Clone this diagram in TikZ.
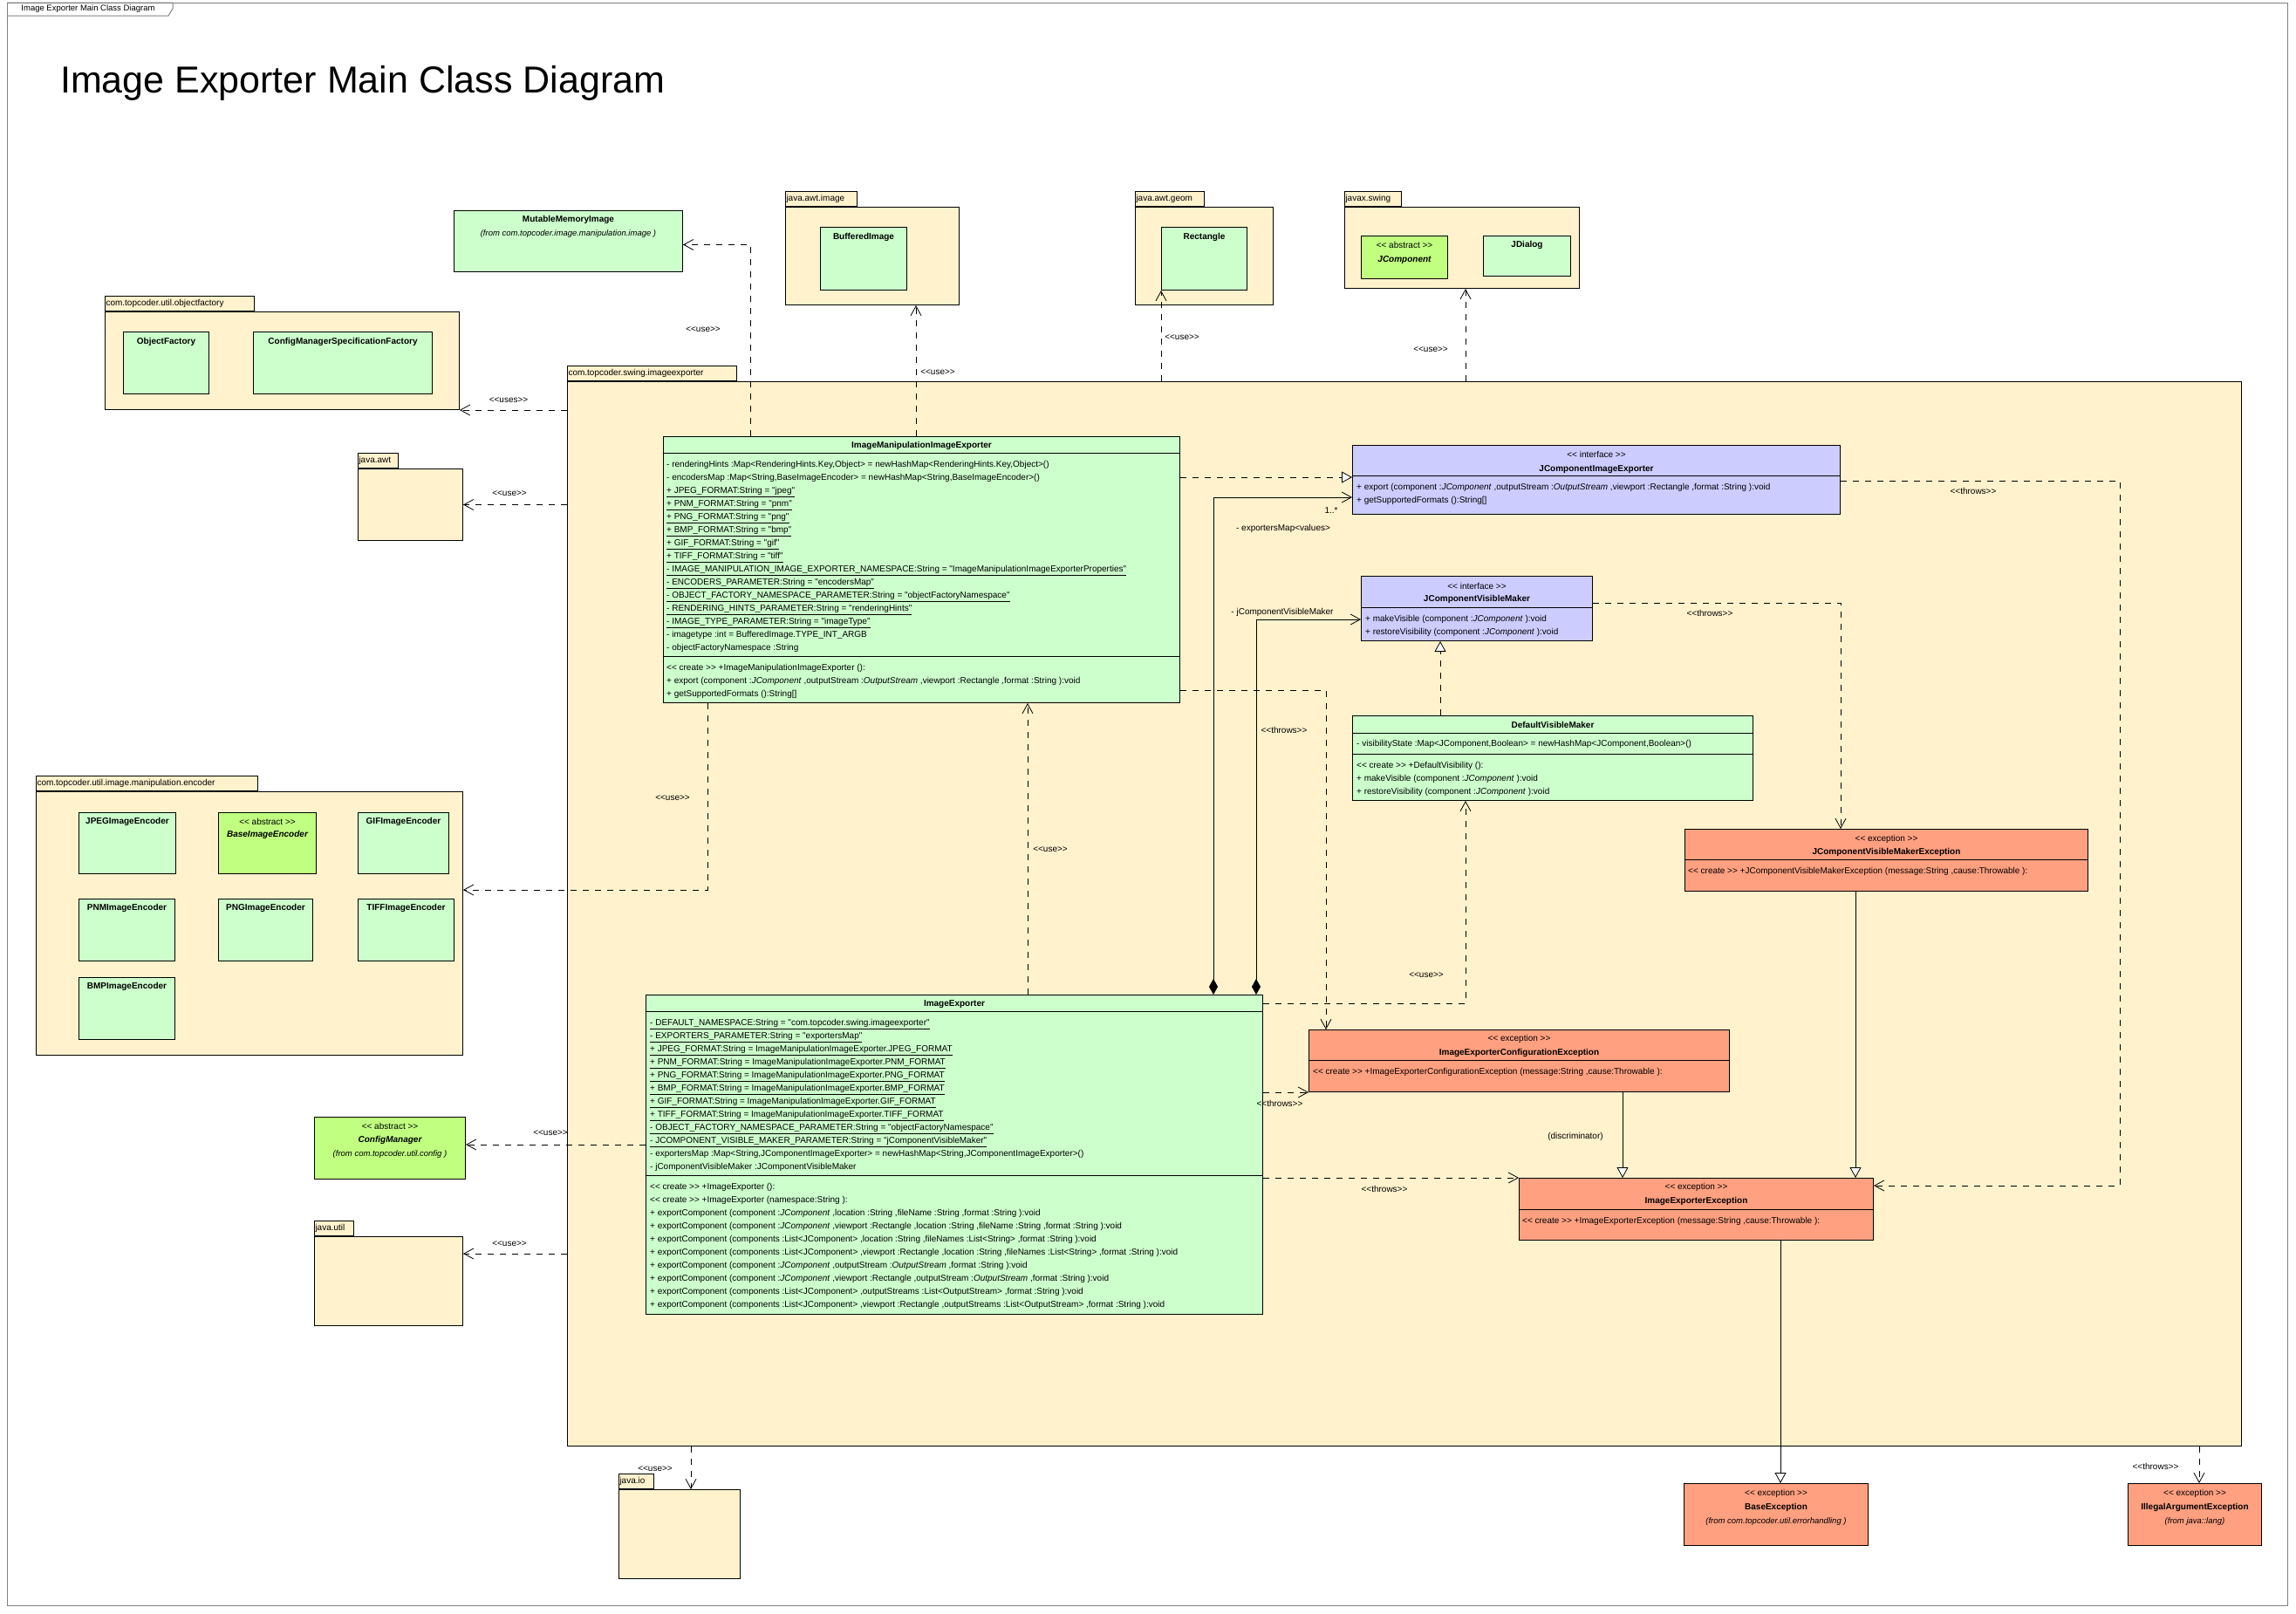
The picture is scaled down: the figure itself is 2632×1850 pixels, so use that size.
\documentclass[tikz,border=0pt]{standalone}
\usepackage{fontspec}
\setmainfont{Liberation Sans}[Ligatures=TeXOff]
\usetikzlibrary{arrows.meta}
\definecolor{pkgfill}{RGB}{255,242,204}
\definecolor{clsfill}{RGB}{204,255,204}
\definecolor{absfill}{RGB}{192,255,128}
\definecolor{ifcfill}{RGB}{204,204,255}
\definecolor{excfill}{RGB}{255,160,128}
\definecolor{framegray}{RGB}{128,128,128}
\tikzset{
  frame/.style={draw=framegray, line width=1pt},
  pkg/.style={draw, line width=1pt, fill=pkgfill, inner sep=0pt, anchor=north west},
  pkgtab/.style={draw, line width=1pt, fill=pkgfill, inner xsep=1pt, inner ysep=0pt, minimum height=17pt, anchor=south west, align=left, font=\fontsize{10}{12}\selectfont},
  cls/.style={draw, line width=1pt, fill=clsfill, inner sep=0pt, anchor=north west},
  abscls/.style={cls, fill=absfill},
  ifc/.style={cls, fill=ifcfill},
  exc/.style={cls, fill=excfill},
  cname/.style={inner sep=0pt, font=\bfseries\fontsize{10}{12}\selectfont},
  aname/.style={inner sep=0pt, font=\bfseries\itshape\fontsize{10}{12}\selectfont},
  stereo/.style={inner sep=0pt, font=\fontsize{10}{12}\selectfont},
  fromtext/.style={inner sep=0pt, font=\itshape\fontsize{9.5}{12}\selectfont},
  members/.style={inner sep=0pt, anchor=north west, align=left, font=\fontsize{10}{15}\selectfont},
  lbl/.style={inner sep=0pt, font=\fontsize{10}{12}\selectfont},
  divider/.style={line width=1pt},
  dep/.style={line width=0.8pt, dash pattern=on 7pt off 7pt, -{Straight Barb[length=11pt,width=12pt]}},
  real/.style={line width=0.8pt, dash pattern=on 7pt off 7pt, -{Triangle[open,fill=white,length=12pt,width=13pt]}},
  gen/.style={line width=0.8pt, -{Triangle[open,fill=white,length=12pt,width=13pt]}},
  comp/.style={line width=0.8pt, {Diamond[length=18pt,width=10pt]}-{Straight Barb[length=11pt,width=12pt]}}
}
\begin{document}
\begin{tikzpicture}[x=1pt,y=-1pt]
  \path[use as bounding box, fill=white] (0,0) rectangle (2632,1850);
  \draw[frame] (8,3) rectangle (2622,1840);
  \draw[frame] (8,3) -- (198,3) -- (198,10) -- (193,18) -- (8,18);
  \node[inner sep=0pt, font=\fontsize{9.5}{11}\selectfont] (frametab) at (101,10) {Image Exporter Main Class Diagram};
  \node[anchor=west, inner sep=0pt, font=\fontsize{43}{50}\selectfont] (diagtitle) at (69,95) {Image Exporter Main Class Diagram};

  \node[cls, minimum width=262, minimum height=70] (mmi) at (520,241) {};
  \node[cname] (mmi-name) at ([yshift=-11pt]mmi.north) {MutableMemoryImage};
  \node[fromtext] (mmi-from) at ([yshift=-27pt]mmi.north) {(from com.topcoder.image.manipulation.image )};

  \node[pkg, minimum width=406, minimum height=112] (objf) at (120,357) {};
  \node[pkgtab, text width=169] (objf-tab) at (objf.north west) {com.topcoder.util.objectfactory};
  \node[cls, minimum width=98, minimum height=71] (objfactory) at (141,380) {};
  \node[cname] (objfactory-name) at ([yshift=-12pt]objfactory.north) {ObjectFactory};
  \node[cls, minimum width=205, minimum height=71] (cmsf) at (290,380) {};
  \node[cname] (cmsf-name) at ([yshift=-12pt]cmsf.north) {ConfigManagerSpecificationFactory};

  \node[pkg, minimum width=120, minimum height=82] (awt) at (410,537) {};
  \node[pkgtab, text width=44] (awt-tab) at (awt.north west) {java.awt};

  \node[pkg, minimum width=199, minimum height=112] (awtimage) at (900,237) {};
  \node[pkgtab, text width=80] (awtimage-tab) at (awtimage.north west) {java.awt.image};
  \node[cls, minimum width=99, minimum height=72] (bufimg) at (940,260) {};
  \node[cname] (bufimg-name) at ([yshift=-12pt]bufimg.north) {BufferedImage};

  \node[pkg, minimum width=158, minimum height=112] (awtgeom) at (1301,237) {};
  \node[pkgtab, text width=77] (awtgeom-tab) at (awtgeom.north west) {java.awt.geom};
  \node[cls, minimum width=98, minimum height=72] (rect) at (1331,260) {};
  \node[cname] (rect-name) at ([yshift=-12pt]rect.north) {Rectangle};

  \node[pkg, minimum width=269, minimum height=93] (swing) at (1541,237) {};
  \node[pkgtab, text width=63] (swing-tab) at (swing.north west) {javax.swing};
  \node[abscls, minimum width=99, minimum height=49] (jcomp) at (1560,270) {};
  \node[stereo] (jcomp-st) at ([yshift=-11pt]jcomp.north) {<< abstract >>};
  \node[aname] (jcomp-name) at ([yshift=-28pt]jcomp.north) {JComponent};
  \node[cls, minimum width=100, minimum height=46] (jdialog) at (1700,270) {};
  \node[cname] (jdialog-name) at ([yshift=-11pt]jdialog.north) {JDialog};

  \node[pkg, minimum width=489, minimum height=302] (enc) at (41,907) {};
  \node[pkgtab, text width=252] (enc-tab) at (enc.north west) {com.topcoder.util.image.manipulation.encoder};
  \node[cls, minimum width=111, minimum height=70] (jpegenc) at (90,931) {};
  \node[cname] (jpegenc-name) at ([yshift=-11pt]jpegenc.north) {JPEGImageEncoder};
  \node[abscls, minimum width=112, minimum height=70] (baseenc) at (250,931) {};
  \node[stereo] (baseenc-st) at ([yshift=-11pt]baseenc.north) {<< abstract >>};
  \node[aname] (baseenc-name) at ([yshift=-26pt]baseenc.north) {BaseImageEncoder};
  \node[cls, minimum width=104, minimum height=70] (gifenc) at (410,931) {};
  \node[cname] (gifenc-name) at ([yshift=-11pt]gifenc.north) {GIFImageEncoder};
  \node[cls, minimum width=110, minimum height=71] (pnmenc) at (90,1030) {};
  \node[cname] (pnmenc-name) at ([yshift=-11pt]pnmenc.north) {PNMImageEncoder};
  \node[cls, minimum width=108, minimum height=71] (pngenc) at (250,1030) {};
  \node[cname] (pngenc-name) at ([yshift=-11pt]pngenc.north) {PNGImageEncoder};
  \node[cls, minimum width=110, minimum height=71] (tiffenc) at (410,1030) {};
  \node[cname] (tiffenc-name) at ([yshift=-11pt]tiffenc.north) {TIFFImageEncoder};
  \node[cls, minimum width=110, minimum height=71] (bmpenc) at (90,1120) {};
  \node[cname] (bmpenc-name) at ([yshift=-11pt]bmpenc.north) {BMPImageEncoder};

  \node[abscls, minimum width=173, minimum height=71] (cm) at (360,1280) {};
  \node[stereo] (cm-st) at ([yshift=-11pt]cm.north) {<< abstract >>};
  \node[aname] (cm-name) at ([yshift=-27pt]cm.north) {ConfigManager};
  \node[fromtext] (cm-from) at ([yshift=-43pt]cm.north) {(from com.topcoder.util.config )};

  \node[pkg, minimum width=170, minimum height=102] (util) at (360,1417) {};
  \node[pkgtab, text width=43] (util-tab) at (util.north west) {java.util};
  \node[pkg, minimum width=139, minimum height=102] (io) at (709,1707) {};
  \node[pkgtab, text width=38] (io-tab) at (io.north west) {java.io};

  \node[exc, minimum width=211, minimum height=71] (be) at (1930,1700) {};
  \node[stereo] (be-st) at ([yshift=-12pt]be.north) {<< exception >>};
  \node[cname] (be-name) at ([yshift=-28pt]be.north) {BaseException};
  \node[fromtext] (be-from) at ([yshift=-44pt]be.north) {(from com.topcoder.util.errorhandling )};
  \node[exc, minimum width=153, minimum height=71] (iae) at (2439,1700) {};
  \node[stereo] (iae-st) at ([yshift=-12pt]iae.north) {<< exception >>};
  \node[cname] (iae-name) at ([yshift=-28pt]iae.north) {IllegalArgumentException};
  \node[fromtext] (iae-from) at ([yshift=-44pt]iae.north) {(from java::lang)};

  \node[pkg, minimum width=1919, minimum height=1220] (mainpkg) at (650,437) {};
  \node[pkgtab, text width=192] (mainpkg-tab) at (mainpkg.north west) {com.topcoder.swing.imageexporter};

  \node[cls, minimum width=592, minimum height=305] (imie) at (760,500) {};
  \node[cname] (imie-name) at ([yshift=-11pt]imie.north) {ImageManipulationImageExporter};
  \draw[divider] ([yshift=-19pt]imie.north west) -- ([yshift=-19pt]imie.north east);
  \draw[divider] ([yshift=-252pt]imie.north west) -- ([yshift=-252pt]imie.north east);
  \node[members] (imie-attr) at ([xshift=4pt,yshift=-25pt]imie.north west) {\strut- renderingHints :Map<RenderingHints.Key,Object> = newHashMap<RenderingHints.Key,Object>()\\
    - encodersMap :Map<String,BaseImageEncoder> = newHashMap<String,BaseImageEncoder>()\\
    \underline{+ JPEG\_FORMAT:String = "jpeg"}\\
    \underline{+ PNM\_FORMAT:String = "pnm"}\\
    \underline{+ PNG\_FORMAT:String = "png"}\\
    \underline{+ BMP\_FORMAT:String = "bmp"}\\
    \underline{+ GIF\_FORMAT:String = "gif"}\\
    \underline{+ TIFF\_FORMAT:String = "tiff"}\\
    \underline{- IMAGE\_MANIPULATION\_IMAGE\_EXPORTER\_NAMESPACE:String = "ImageManipulationImageExporterProperties"}\\
    \underline{- ENCODERS\_PARAMETER:String = "encodersMap"}\\
    \underline{- OBJECT\_FACTORY\_NAMESPACE\_PARAMETER:String = "objectFactoryNamespace"}\\
    \underline{- RENDERING\_HINTS\_PARAMETER:String = "renderingHints"}\\
    \underline{- IMAGE\_TYPE\_PARAMETER:String = "imageType"}\\
    - imagetype :int = BufferedImage.TYPE\_INT\_ARGB\\
    - objectFactoryNamespace :String};
  \node[members] (imie-ops) at ([xshift=4pt,yshift=-258pt]imie.north west) {\strut<< create >> +ImageManipulationImageExporter ():\\
    + export (component :\textit{JComponent} ,outputStream :\textit{OutputStream} ,viewport :Rectangle ,format :String ):void\\
    + getSupportedFormats ():String[]};

  \node[ifc, minimum width=559, minimum height=79] (jcie) at (1550,510) {};
  \node[stereo] (jcie-st) at ([yshift=-11pt]jcie.north) {<< interface >>};
  \node[cname] (jcie-name) at ([yshift=-28pt]jcie.north) {JComponentImageExporter};
  \draw[divider] ([yshift=-35pt]jcie.north west) -- ([yshift=-35pt]jcie.north east);
  \node[members] (jcie-ops) at ([xshift=5pt,yshift=-41pt]jcie.north west) {\strut+ export (component :\textit{JComponent} ,outputStream :\textit{OutputStream} ,viewport :Rectangle ,format :String ):void\\
    + getSupportedFormats ():String[]};

  \node[ifc, minimum width=265, minimum height=74] (jcvm) at (1560,660) {};
  \node[stereo] (jcvm-st) at ([yshift=-12pt]jcvm.north) {<< interface >>};
  \node[cname] (jcvm-name) at ([yshift=-27pt]jcvm.north) {JComponentVisibleMaker};
  \draw[divider] ([yshift=-36pt]jcvm.north west) -- ([yshift=-36pt]jcvm.north east);
  \node[members] (jcvm-ops) at ([xshift=5pt,yshift=-42pt]jcvm.north west) {\strut+ makeVisible (component :\textit{JComponent} ):void\\
    + restoreVisibility (component :\textit{JComponent} ):void};

  \node[cls, minimum width=459, minimum height=97] (dvm) at (1550,820) {};
  \node[cname] (dvm-name) at ([yshift=-11pt]dvm.north) {DefaultVisibleMaker};
  \draw[divider] ([yshift=-20pt]dvm.north west) -- ([yshift=-20pt]dvm.north east);
  \draw[divider] ([yshift=-44pt]dvm.north west) -- ([yshift=-44pt]dvm.north east);
  \node[members] (dvm-attr) at ([xshift=5pt,yshift=-25pt]dvm.north west) {\strut- visibilityState :Map<JComponent,Boolean> = newHashMap<JComponent,Boolean>()};
  \node[members] (dvm-ops) at ([xshift=5pt,yshift=-50pt]dvm.north west) {\strut<< create >> +DefaultVisibility ():\\
    + makeVisible (component :\textit{JComponent} ):void\\
    + restoreVisibility (component :\textit{JComponent} ):void};

  \node[exc, minimum width=462, minimum height=71] (jcvmex) at (1931,950) {};
  \node[stereo] (jcvmex-st) at ([yshift=-12pt]jcvmex.north) {<< exception >>};
  \node[cname] (jcvmex-name) at ([yshift=-27pt]jcvmex.north) {JComponentVisibleMakerException};
  \draw[divider] ([yshift=-35pt]jcvmex.north west) -- ([yshift=-35pt]jcvmex.north east);
  \node[members] (jcvmex-ops) at ([xshift=4pt,yshift=-41pt]jcvmex.north west) {\strut<< create >> +JComponentVisibleMakerException (message:String ,cause:Throwable ):};

  \node[exc, minimum width=482, minimum height=71] (iece) at (1500,1180) {};
  \node[stereo] (iece-st) at ([yshift=-11pt]iece.north) {<< exception >>};
  \node[cname] (iece-name) at ([yshift=-27pt]iece.north) {ImageExporterConfigurationException};
  \draw[divider] ([yshift=-35pt]iece.north west) -- ([yshift=-35pt]iece.north east);
  \node[members] (iece-ops) at ([xshift=5pt,yshift=-41pt]iece.north west) {\strut<< create >> +ImageExporterConfigurationException (message:String ,cause:Throwable ):};

  \node[exc, minimum width=406, minimum height=71] (iee) at (1741,1350) {};
  \node[stereo] (iee-st) at ([yshift=-11pt]iee.north) {<< exception >>};
  \node[cname] (iee-name) at ([yshift=-27pt]iee.north) {ImageExporterException};
  \draw[divider] ([yshift=-36pt]iee.north west) -- ([yshift=-36pt]iee.north east);
  \node[members] (iee-ops) at ([xshift=4pt,yshift=-42pt]iee.north west) {\strut<< create >> +ImageExporterException (message:String ,cause:Throwable ):};

  \node[cls, minimum width=707, minimum height=366] (ie) at (740,1140) {};
  \node[cname] (ie-name) at ([yshift=-11pt]ie.north) {ImageExporter};
  \draw[divider] ([yshift=-19pt]ie.north west) -- ([yshift=-19pt]ie.north east);
  \draw[divider] ([yshift=-207pt]ie.north west) -- ([yshift=-207pt]ie.north east);
  \node[members] (ie-attr) at ([xshift=5pt,yshift=-25pt]ie.north west) {\strut\underline{- DEFAULT\_NAMESPACE:String = "com.topcoder.swing.imageexporter"}\\
    \underline{- EXPORTERS\_PARAMETER:String = "exportersMap"}\\
    \underline{+ JPEG\_FORMAT:String = ImageManipulationImageExporter.JPEG\_FORMAT}\\
    \underline{+ PNM\_FORMAT:String = ImageManipulationImageExporter.PNM\_FORMAT}\\
    \underline{+ PNG\_FORMAT:String = ImageManipulationImageExporter.PNG\_FORMAT}\\
    \underline{+ BMP\_FORMAT:String = ImageManipulationImageExporter.BMP\_FORMAT}\\
    \underline{+ GIF\_FORMAT:String = ImageManipulationImageExporter.GIF\_FORMAT}\\
    \underline{+ TIFF\_FORMAT:String = ImageManipulationImageExporter.TIFF\_FORMAT}\\
    \underline{- OBJECT\_FACTORY\_NAMESPACE\_PARAMETER:String = "objectFactoryNamespace"}\\
    \underline{- JCOMPONENT\_VISIBLE\_MAKER\_PARAMETER:String = "jComponentVisibleMaker"}\\
    - exportersMap :Map<String,JComponentImageExporter> = newHashMap<String,JComponentImageExporter>()\\
    - jComponentVisibleMaker :JComponentVisibleMaker};
  \node[members] (ie-ops) at ([xshift=5pt,yshift=-213pt]ie.north west) {\strut<< create >> +ImageExporter ():\\
    << create >> +ImageExporter (namespace:String ):\\
    + exportComponent (component :\textit{JComponent} ,location :String ,fileName :String ,format :String ):void\\
    + exportComponent (component :\textit{JComponent} ,viewport :Rectangle ,location :String ,fileName :String ,format :String ):void\\
    + exportComponent (components :List<JComponent> ,location :String ,fileNames :List<String> ,format :String ):void\\
    + exportComponent (components :List<JComponent> ,viewport :Rectangle ,location :String ,fileNames :List<String> ,format :String ):void\\
    + exportComponent (component :\textit{JComponent} ,outputStream :\textit{OutputStream} ,format :String ):void\\
    + exportComponent (component :\textit{JComponent} ,viewport :Rectangle ,outputStream :\textit{OutputStream} ,format :String ):void\\
    + exportComponent (components :List<JComponent> ,outputStreams :List<OutputStream> ,format :String ):void\\
    + exportComponent (components :List<JComponent> ,viewport :Rectangle ,outputStreams :List<OutputStream> ,format :String ):void};

  \coordinate (imie-mmi) at ([xshift=100pt]imie.north west);
  \coordinate (mmi-in) at ([yshift=-4pt]mmi.east);
  \coordinate (imie-img) at ([xshift=290pt]imie.north west);
  \coordinate (swing-in) at ([xshift=139pt]swing.south west);
  \coordinate (imie-enc) at ([xshift=51pt]imie.south west);
  \coordinate (enc-in) at ([yshift=-113pt]enc.north east);
  \coordinate (cm-in) at ([yshift=4pt]cm.east);
  \coordinate (util-in) at ([yshift=-20pt]util.north east);
  \coordinate (io-in) at ([xshift=83pt]io.north west);
  \coordinate (iae-in) at ([xshift=82pt]iae.north west);
  \coordinate (iee-be) at ([xshift=300pt]iee.south west);
  \coordinate (jcie-in) at ([yshift=-37pt]jcie.north west);
  \coordinate (jcie-assoc) at ([yshift=-60pt]jcie.north west);
  \coordinate (ie-exp) at ([xshift=651pt]ie.north west);
  \coordinate (jcvm-assoc) at ([yshift=-50pt]jcvm.north west);
  \coordinate (ie-vis) at ([xshift=700pt]ie.north west);
  \coordinate (dvm-real) at ([xshift=101pt]dvm.north west);
  \coordinate (dvm-use) at ([xshift=130pt]dvm.south west);
  \coordinate (ie-dvm) at ([yshift=-10pt]ie.north east);
  \coordinate (imie-thr) at ([yshift=15pt]imie.south east);
  \coordinate (iece-in) at ([xshift=20pt]iece.north west);
  \coordinate (iece-gen) at ([xshift=360pt]iece.south west);
  \coordinate (jcvmex-gen) at ([xshift=196pt]jcvmex.south west);
  \coordinate (jcvm-thr) at ([yshift=-31pt]jcvm.north east);
  \coordinate (jcvmex-in) at ([xshift=179pt]jcvmex.north west);
  \coordinate (jcie-thr) at ([yshift=-41pt]jcie.north east);
  \coordinate (iee-thr) at ([yshift=-9pt]iee.north east);
  \coordinate (thr-bend) at (2430,1359);
  \coordinate (ie-imie) at ([xshift=438pt]ie.north west);

  \draw[dep] (imie-mmi) |- (mmi-in);
  \draw[dep] (imie-img) -- (imie-img |- awtimage.south);
  \draw[dep] (rect.south west |- mainpkg.north) -- (rect.south west);
  \draw[dep] (swing-in |- mainpkg.north) -- (swing-in);
  \draw[dep] (mainpkg.west |- objf.south east) -- (objf.south east);
  \draw[dep] (mainpkg.west |- awt.east) -- (awt.east);
  \draw[dep] (imie-enc) |- (enc-in);
  \draw[dep] (ie.west |- cm-in) -- (cm-in);
  \draw[dep] (mainpkg.west |- util-in) -- (util-in);
  \draw[dep] (io-in |- mainpkg.south) -- (io-in);
  \draw[dep] (iae-in |- mainpkg.south) -- (iae-in);
  \draw[gen] (iee-be) -- (iee-be |- be.north);
  \draw[real] (imie.east |- jcie-in) -- (jcie-in);
  \draw[comp] (ie-exp) |- (jcie-assoc);
  \draw[comp] (ie-vis) |- (jcvm-assoc);
  \draw[real] (dvm-real) -- (dvm-real |- jcvm.south);
  \draw[dep] (ie-dvm) -| (dvm-use);
  \draw[dep] (imie-thr) -| (iece-in);
  \draw[dep] (ie.east |- iece.south west) -- (iece.south west);
  \draw[dep] (ie.east |- iee.north west) -- (iee.north west);
  \draw[gen] (iece-gen) -- (iece-gen |- iee.north);
  \draw[gen] (jcvmex-gen) -- (jcvmex-gen |- iee.north);
  \draw[dep] (jcvm-thr) -| (jcvmex-in);
  \draw[dep] (jcie-thr) -| (thr-bend) -- (iee-thr);
  \draw[dep] (ie-imie) -- (ie-imie |- imie.south);

  \node[lbl] (lbl-mmi) at (806,378) {<<use>>};
  \node[lbl] (lbl-img) at (1075,427) {<<use>>};
  \node[lbl] (lbl-rect) at (1355,387) {<<use>>};
  \node[lbl] (lbl-swing) at (1640,401) {<<use>>};
  \node[lbl] (lbl-objf) at (583,459) {<<uses>>};
  \node[lbl] (lbl-awt) at (584,566) {<<use>>};
  \node[lbl] (lbl-enc) at (771,915) {<<use>>};
  \node[lbl] (lbl-cm) at (631,1299) {<<use>>};
  \node[lbl] (lbl-util) at (584,1426) {<<use>>};
  \node[lbl] (lbl-io) at (751,1684) {<<use>>};
  \node[lbl] (lbl-iae) at (2471,1681) {<<throws>>};
  \node[lbl] (lbl-ie) at (1204,974) {<<use>>};
  \node[lbl] (lbl-mult) at (1526,585) {1..*};
  \node[lbl] (lbl-expmap) at (1471,606) {- exportersMap<values>};
  \node[lbl] (lbl-vismaker) at (1470,702) {- jComponentVisibleMaker};
  \node[lbl] (lbl-thr1) at (1472,837) {<<throws>>};
  \node[lbl] (lbl-dvm) at (1635,1118) {<<use>>};
  \node[lbl] (lbl-thr2) at (1960,703) {<<throws>>};
  \node[lbl] (lbl-thr3) at (2262,563) {<<throws>>};
  \node[lbl] (lbl-thr4) at (1467,1265) {<<throws>>};
  \node[lbl] (lbl-thr5) at (1587,1363) {<<throws>>};
  \node[lbl] (lbl-disc) at (1806,1303) {(discriminator)};
\end{tikzpicture}
\end{document}
